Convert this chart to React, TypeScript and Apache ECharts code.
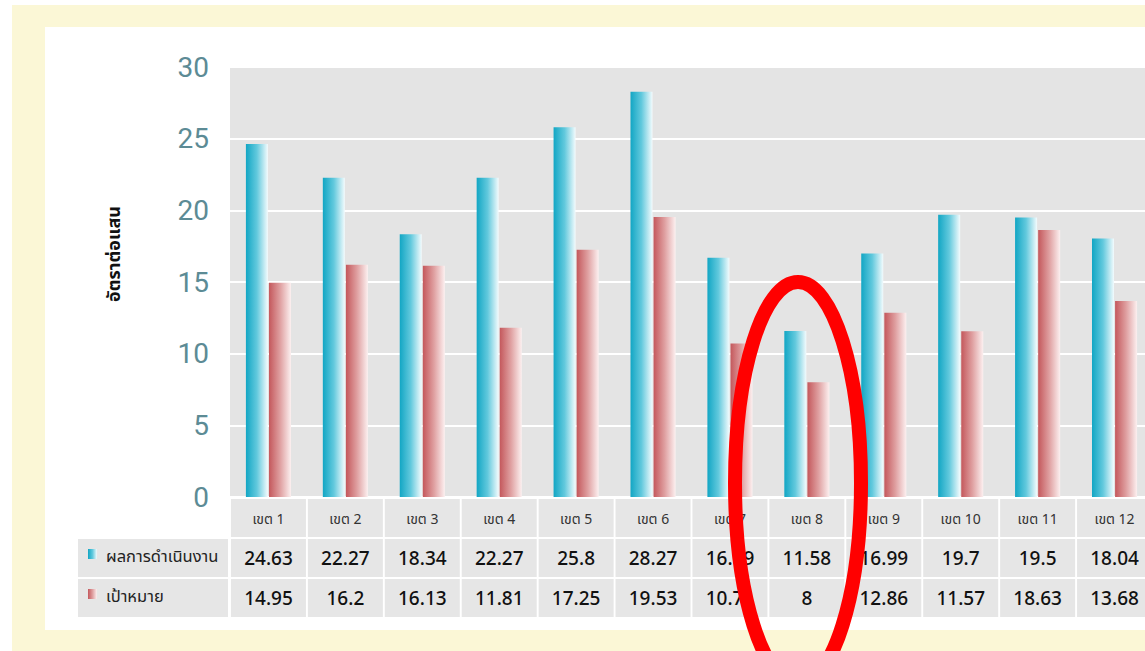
import React, { useEffect, useRef } from "react";
import * as echarts from "echarts";

const categories = ["เขต 1", "เขต 2", "เขต 3", "เขต 4", "เขต 5", "เขต 6", "เขต 7", "เขต 8", "เขต 9", "เขต 10", "เขต 11", "เขต 12"];
const actual = [24.63, 22.27, 18.34, 22.27, 25.8, 28.27, 16.69, 11.58, 16.99, 19.7, 19.5, 18.04];
const target = [14.95, 16.2, 16.13, 11.81, 17.25, 19.53, 10.71, 8, 12.86, 11.57, 18.63, 13.68];
const seriesNames = ["ผลการดำเนินงาน", "เป้าหมาย"];
const yTitle = "อัตราต่อแสน";

const blueGrad = () =>
  new echarts.graphic.LinearGradient(0, 0, 1, 0, [
    { offset: 0, color: "#12a6c4" },
    { offset: 0.5, color: "#62c9dd" },
    { offset: 1, color: "#f3fbfd" },
  ]);
const redGrad = () =>
  new echarts.graphic.LinearGradient(0, 0, 1, 0, [
    { offset: 0, color: "#c4585c" },
    { offset: 0.5, color: "#df9fa0" },
    { offset: 1, color: "#fcf0f0" },
  ]);

const cellBg = "#e6e6e6";
const THAI = "'Noto Sans', 'Noto Sans Thai', 'DejaVu Sans', sans-serif";

export default function App() {
  const ref = useRef<HTMLDivElement>(null);
  useEffect(() => {
    document.body.style.margin = "0";
    const chart = echarts.init(ref.current!, null, { renderer: "svg" });
    const cell = (fs: number, fw: any, color: string) => ({
      width: 75,
      height: 38,
      lineHeight: 40,
      backgroundColor: cellBg,
      align: "center" as const,
      verticalAlign: "middle" as const,
      fontSize: fs,
      fontWeight: fw,
      color,
      fontFamily: THAI,
    });
    chart.setOption({
      animation: false,
      backgroundColor: "#ffffff",
      grid: {
        left: 230,
        top: 67,
        width: 923,
        bottom: 154,
        outerBoundsMode: "none",
        containLabel: false,
        show: true,
        backgroundColor: "#e4e4e4",
        borderWidth: 0,
      },
      xAxis: {
        type: "category",
        data: categories,
        axisLine: { show: false },
        axisTick: { show: false },
        splitLine: { show: false },
        axisLabel: {
          interval: 0,
          margin: 1,
          verticalAlign: "top",
          formatter: (v: string, i: number) =>
            `{c|${v}}\n{a|${String(actual[i])}}\n{b|${String(target[i])}}`,
          rich: {
            c: cell(14, "normal", "#333333"),
            a: cell(19, 500, "#111111"),
            b: cell(19, 500, "#111111"),
          },
        },
      },
      yAxis: {
        type: "value",
        min: 0,
        max: 30,
        interval: 5,
        axisLine: { show: false },
        axisTick: { show: false },
        splitLine: { lineStyle: { color: "#ffffff", width: 2 } },
        axisLabel: {
          fontSize: 28,
          color: "#5c8b95",
          margin: 21,
          fontFamily: "Roboto, 'Noto Sans', sans-serif",
        },
      },
      series: [
        {
          name: seriesNames[0],
          type: "bar",
          data: actual,
          barWidth: 22,
          barGap: "5%",
          itemStyle: { color: blueGrad() },
        },
        {
          name: seriesNames[1],
          type: "bar",
          data: target,
          barWidth: 22,
          barGap: "5%",
          itemStyle: { color: redGrad() },
        },
      ],
      graphic: [
        { type: "rect", z: -20, shape: { x: 12, y: 5, width: 1140, height: 650 }, style: { fill: "#fbf7d6" } },
        { type: "rect", z: -15, shape: { x: 45, y: 27, width: 1110, height: 603 }, style: { fill: "#ffffff" } },
        {
          type: "text",
          x: 113,
          y: 254,
          rotation: Math.PI / 2,
          style: {
            text: yTitle,
            fontSize: 18,
            fontWeight: "bold",
            fill: "#111",
            align: "center",
            verticalAlign: "middle",
            fontFamily: THAI,
          },
        },
        { type: "rect", shape: { x: 78, y: 539, width: 150, height: 38 }, style: { fill: cellBg } },
        { type: "rect", shape: { x: 78, y: 579, width: 150, height: 38 }, style: { fill: cellBg } },
        { type: "rect", shape: { x: 88, y: 549, width: 9, height: 10 }, style: { fill: blueGrad() } },
        { type: "rect", shape: { x: 88, y: 589, width: 9, height: 10 }, style: { fill: redGrad() } },
        {
          type: "text",
          x: 106,
          y: 555,
          style: { text: seriesNames[0], fontSize: 16.5, fill: "#222", verticalAlign: "middle", fontFamily: THAI },
        },
        {
          type: "text",
          x: 106,
          y: 595,
          style: { text: seriesNames[1], fontSize: 16.5, fill: "#222", verticalAlign: "middle", fontFamily: THAI },
        },
        {
          type: "ellipse",
          z: 100,
          shape: { cx: 798, cy: 483, rx: 63, ry: 201 },
          style: { fill: "none", stroke: "#ff0000", lineWidth: 14 },
        },
      ],
    });
    return () => chart.dispose();
  }, []);
  return <div ref={ref} style={{ position: "absolute", left: 0, top: 0, width: 1145, height: 651 }} />;
}
